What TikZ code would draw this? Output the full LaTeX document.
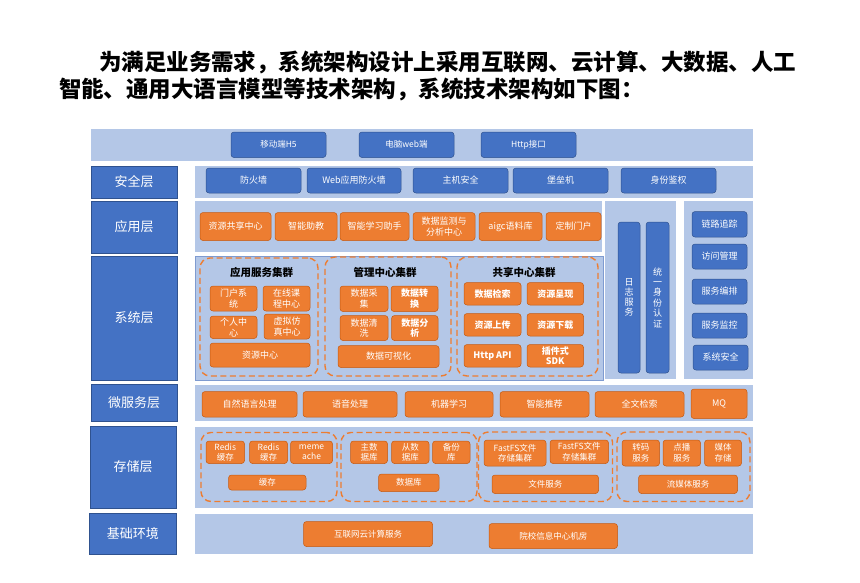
\documentclass[tikz,border=0pt]{standalone}
\usepackage{fontspec}
\setmainfont{Noto Sans CJK SC}
\definecolor{bandc}{HTML}{B4C7E7}
\definecolor{bluec}{HTML}{4472C4}
\definecolor{blueb}{HTML}{2F528F}
\definecolor{orgc}{HTML}{ED7D31}
\definecolor{orgb}{HTML}{C55A11}
\definecolor{sysb}{HTML}{7F9BD0}
\tikzset{
  band/.style={fill=bandc,draw=none},
  lbl/.style={fill=bluec,draw=blueb,line width=0.6pt,text=white,font=\fontsize{13}{15}\selectfont},
  bb/.style={fill=bluec,draw=blueb,line width=0.5pt,rounded corners=3pt,text=white,font=\fontsize{9}{10.5}\selectfont,align=center},
  ob/.style={fill=orgc,draw=orgb,line width=0.5pt,rounded corners=3pt,text=white,font=\fontsize{9}{10.5}\selectfont,align=center},
  obs/.style={ob,font=\fontsize{8.5}{10.5}\selectfont},
  obb/.style={ob,font=\bfseries\fontsize{9}{10.5}\selectfont},
  clu/.style={draw=orgc,line width=1.4pt,dash pattern=on 6pt off 3.5pt,rounded corners=10pt},
  ctitle/.style={font=\bfseries\fontsize{10.5}{12}\selectfont,text=black},
  every node/.style={inner sep=0pt,outer sep=0pt}
}
\newcommand\B[7]{\node[#6,minimum width={#4pt-#2pt},minimum height={#5pt-#3pt}] (#1) at ({(#2+#4)/2},{(#3+#5)/2}) {#7};}
\begin{document}
\begin{tikzpicture}[x=1pt,y=-1pt]
\useasboundingbox[fill=white] (0,0) rectangle (860,582);
% title
\node[anchor=base west,font=\bfseries\fontsize{22.5}{28}\selectfont] (t1) at (99,70.5) {为满足业务需求，系统架构设计上采用互联网、云计算、大数据、人工};
\node[anchor=base west,font=\bfseries\fontsize{22.5}{28}\selectfont] (t2) at (59,97.5) {智能、通用大语言模型等技术架构，系统技术架构如下图：};
% bands
\B{topband}{91}{129}{753}{161}{band}{}
\B{secband}{195}{166}{753}{198}{band}{}
\B{appband}{195}{201}{602}{252}{band}{}
\B{sysband}{195.5}{256}{603.5}{380}{band,draw=sysb,line width=0.6pt}{}
\B{midband}{605}{201}{676}{379}{band}{}
\B{rband}{684}{201}{753}{379}{band}{}
\B{msband}{195}{385}{753}{421}{band}{}
\B{stband}{195}{427}{753}{508}{band}{}
\B{baseband}{195}{514}{753}{554}{band}{}
% labels
\B{l1}{91}{166}{177}{198}{lbl}{安全层}
\B{l2}{91}{201}{177}{253}{lbl}{应用层}
\B{l3}{91}{256}{177}{380}{lbl}{系统层}
\B{l4}{91}{384}{177}{421}{lbl}{微服务层}
\B{l5}{90}{426}{176}{508}{lbl}{存储层}
\B{l6}{89.5}{513}{176}{554}{lbl}{基础环境}
% top row
\B{c1}{231}{132}{326}{157.5}{bb,font=\fontsize{8.5}{10}\selectfont}{移动端H5}
\B{c2}{359}{132}{454}{157.5}{bb,font=\fontsize{8.5}{10}\selectfont}{电脑web端}
\B{c3}{481}{132}{576}{157.5}{bb,font=\fontsize{8.5}{10}\selectfont}{Http接口}
% security
\B{s1}{206}{168}{301}{193}{bb}{防火墙}
\B{s2}{307}{168}{401}{193}{bb}{Web应用防火墙}
\B{s3}{413}{168}{508}{193}{bb}{主机安全}
\B{s4}{513}{168}{608}{193}{bb}{堡垒机}
\B{s5}{621}{168}{716}{193}{bb}{身份鉴权}
% applications
\B{a1}{200}{212.5}{271}{240.5}{ob}{资源共享中心}
\B{a2}{275}{212.5}{337}{240.5}{ob}{智能助教}
\B{a3}{340}{212.5}{409}{240.5}{ob}{智能学习助手}
\B{a4}{413}{212.5}{475}{240.5}{ob}{数据监测与\\分析中心}
\B{a5}{479}{212.5}{542}{240.5}{ob}{aigc语料库}
\B{a6}{546}{212.5}{601}{240.5}{ob}{定制门户}
% system clusters
\B{k1}{200}{258}{318}{376}{clu}{}
\node[ctitle] (k1t) at (261.5,272) {应用服务集群};
\B{k1a}{210}{286}{257}{311}{ob}{门户系\\统}
\B{k1b}{263}{286}{310}{311}{ob}{在线课\\程中心}
\B{k1c}{210}{316}{257}{338.5}{ob}{个人中\\心}
\B{k1d}{264}{314}{310}{339}{ob}{虚拟仿\\真中心}
\B{k1e}{210}{343}{310}{367}{ob}{资源中心}
\B{k2}{325}{257}{451}{376}{clu}{}
\node[ctitle] (k2t) at (385,272.5) {管理中心集群};
\B{k2a}{340}{286}{388}{311.5}{ob}{数据采\\集}
\B{k2b}{391}{286}{438}{311.5}{obb}{数据转\\换}
\B{k2c}{340}{315.5}{388}{340.5}{ob}{数据清\\洗}
\B{k2d}{391.5}{315.5}{438}{340.5}{obb}{数据分\\析}
\B{k2e}{338}{345.5}{439}{367.5}{ob}{数据可视化}
\B{k3}{457}{257}{598}{376}{clu}{}
\node[ctitle] (k3t) at (524,272.5) {共享中心集群};
\B{k3a}{464}{282.5}{521}{305}{obb}{数据检索}
\B{k3b}{527}{282.5}{583.5}{305}{obb}{资源呈现}
\B{k3c}{464}{313.5}{521}{336}{obb}{资源上传}
\B{k3d}{527}{313.5}{583.5}{336}{obb}{资源下载}
\B{k3e}{464}{344.5}{521}{367}{obb}{Http API}
\B{k3f}{527}{344.5}{583.5}{367}{obb}{插件式\\SDK}
% middle column
\B{m1}{618}{222}{640}{373}{bb,font=\fontsize{9}{10}\selectfont}{日\\志\\服\\务}
\B{m2}{646}{222}{669}{373}{bb,font=\fontsize{9}{10.4}\selectfont}{统\\一\\身\\份\\认\\证}
% right column
\B{r1}{692}{211.5}{747}{237}{bb}{链路追踪}
\B{r2}{692}{244}{747}{269}{bb}{访问管理}
\B{r3}{692}{279}{747}{304}{bb}{服务编排}
\B{r4}{692}{313}{747}{338}{bb}{服务监控}
\B{r5}{693}{345}{748}{370}{bb}{系统安全}
% microservices
\B{u1}{202}{391.5}{297}{417}{ob}{自然语言处理}
\B{u2}{303}{391.5}{397}{417}{ob}{语音处理}
\B{u3}{405}{391.5}{493}{417}{ob}{机器学习}
\B{u4}{500}{391.5}{589}{417}{ob}{智能推荐}
\B{u5}{595}{391.5}{684}{417}{ob}{全文检索}
\B{u6}{691}{389}{747}{418.5}{ob}{MQ}
% storage
\B{g1}{201}{432.5}{337}{501.5}{clu}{}
\B{g1a}{206}{441}{244.5}{463.5}{obs}{Redis\\缓存}
\B{g1b}{249.5}{441}{287.5}{463.5}{obs}{Redis\\缓存}
\B{g1c}{290.5}{441}{332.5}{463.5}{obs}{meme\\ache}
\B{g1d}{228.5}{475}{306}{490}{obs}{缓存}
\B{g2}{341}{432.5}{477}{501.5}{clu}{}
\B{g2a}{350.5}{441}{387.5}{463.5}{obs}{主数\\据库}
\B{g2b}{391.5}{441}{429}{463.5}{obs}{从数\\据库}
\B{g2c}{432.5}{441}{470}{463.5}{obs}{备份\\库}
\B{g2d}{378.5}{474}{439}{491.5}{obs}{数据库}
\B{g3}{478.5}{432}{612.5}{501.5}{clu}{}
\B{g3a}{484}{440}{546}{466}{obs}{FastFS文件\\存储集群}
\B{g3b}{550}{440}{608.5}{463.5}{obs}{FastFS文件\\存储集群}
\B{g3c}{492}{475}{598.5}{493.5}{obs}{文件服务}
\B{g4}{617}{432}{750}{501.5}{clu}{}
\B{g4a}{622}{440}{659.5}{466}{obs}{转码\\服务}
\B{g4b}{663}{440}{700.5}{466}{obs}{点播\\服务}
\B{g4c}{704.5}{440}{741.5}{466}{obs}{媒体\\存储}
\B{g4d}{638.5}{475}{737.5}{493.5}{obs}{流媒体服务}
% base
\B{b1}{303.5}{521.5}{432.5}{546.5}{obs}{互联网云计算服务}
\B{b2}{489}{523.5}{617.5}{548.5}{obs}{院校信息中心机房}
\end{tikzpicture}
\end{document}
